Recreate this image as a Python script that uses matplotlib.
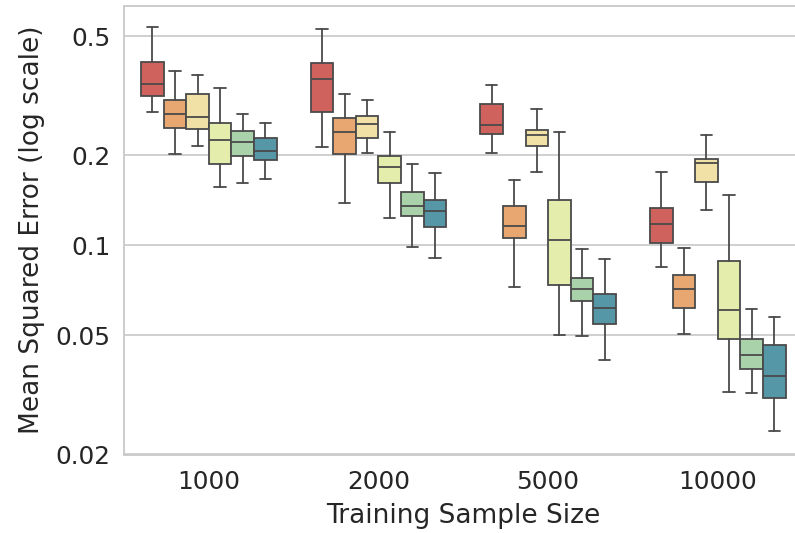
import numpy as np
import matplotlib
matplotlib.use("Agg")
import matplotlib.pyplot as plt
import seaborn as sns
from matplotlib.ticker import FixedLocator, FixedFormatter, NullLocator

# data (one row per sample size, one column per model)
sample_sizes = ["1000", "2000", "5000", "10000"]

whis_hi = [[0.537, 0.383, 0.370, 0.335, 0.274, 0.257],
           [0.526, 0.319, 0.306, 0.239, 0.187, 0.175],
           [0.343, 0.165, 0.286, 0.239, 0.0973, 0.0897],
           [0.176, 0.098, 0.233, 0.1475, 0.0612, 0.0578]]
q3 = [[0.409, 0.305, 0.319, 0.256, 0.241, 0.229],
      [0.405, 0.266, 0.271, 0.199, 0.151, 0.142],
      [0.297, 0.135, 0.243, 0.142, 0.078, 0.0687],
      [0.133, 0.0796, 0.194, 0.0885, 0.0486, 0.0464]]
medians = [[0.347, 0.274, 0.269, 0.224, 0.221, 0.207],
           [0.359, 0.239, 0.255, 0.182, 0.135, 0.130],
           [0.253, 0.116, 0.233, 0.1045, 0.0712, 0.0619],
           [0.118, 0.0714, 0.189, 0.0607, 0.043, 0.0365]]
q1 = [[0.316, 0.246, 0.244, 0.187, 0.198, 0.193],
      [0.279, 0.202, 0.229, 0.161, 0.125, 0.115],
      [0.235, 0.106, 0.215, 0.0734, 0.0652, 0.0544],
      [0.102, 0.0619, 0.163, 0.0485, 0.0385, 0.031]]
whis_lo = [[0.279, 0.202, 0.215, 0.157, 0.162, 0.166],
           [0.213, 0.138, 0.203, 0.123, 0.099, 0.091],
           [0.203, 0.0726, 0.176, 0.0501, 0.0497, 0.0414],
           [0.0843, 0.0507, 0.1315, 0.0324, 0.0321, 0.0239]]

ytick_vals = [0.02, 0.05, 0.1, 0.2, 0.5]
ytick_labels = ["0.02", "0.05", "0.1", "0.2", "0.5"]

sns.set_style("whitegrid")
plt.rcParams['font.family'] = ['DejaVu Sans']
plt.rcParams['grid.linewidth'] = 1.3
plt.rcParams['axes.linewidth'] = 1.4

n_hue = 6
colors = sns.color_palette("Spectral", n_hue, desat=0.75)
edge = "#4a4a4a"
lw = 1.3

fig = plt.figure(figsize=(7.95, 5.33), dpi=100)
# right edge of the axes runs slightly past the figure, as in the reference
ax = fig.add_axes([124/795, 78.5/533, 678.6/795, 448.5/533])

width = 0.8 / n_hue
for k in range(n_hue):
    stats = []
    pos = []
    for i in range(len(sample_sizes)):
        stats.append(dict(med=medians[i][k], q1=q1[i][k], q3=q3[i][k],
                          whislo=whis_lo[i][k], whishi=whis_hi[i][k], fliers=[]))
        pos.append(i - 0.4 + width / 2 + k * width)
    ax.bxp(stats, positions=pos, widths=width, patch_artist=True,
           showfliers=False, manage_ticks=False,
           boxprops=dict(facecolor=colors[k], edgecolor=edge, linewidth=lw),
           medianprops=dict(color=edge, linewidth=lw),
           whiskerprops=dict(color=edge, linewidth=lw),
           capprops=dict(color=edge, linewidth=lw),
           capwidths=width * 0.5)

ax.set_yscale("log")
ax.set_ylim(0.02, 0.63)
ax.set_xlim(-0.5, len(sample_sizes) - 0.5)
ax.yaxis.set_major_locator(FixedLocator(ytick_vals))
ax.yaxis.set_major_formatter(FixedFormatter(ytick_labels))
ax.yaxis.set_minor_locator(NullLocator())
ax.set_xticks(range(len(sample_sizes)))
ax.set_xticklabels(sample_sizes)
ax.xaxis.grid(False)
ax.tick_params(axis="y", labelsize=17.8, colors="#262626", pad=6)
ax.tick_params(axis="x", labelsize=17.8, colors="#262626", pad=8)
ax.set_xlabel("Training Sample Size", fontsize=19, color="#262626", labelpad=6)
ax.set_ylabel("Mean Squared Error (log scale)", fontsize=19, color="#262626", labelpad=8)
ax.set_axisbelow(True)

fig.savefig("out.png", dpi=100)
